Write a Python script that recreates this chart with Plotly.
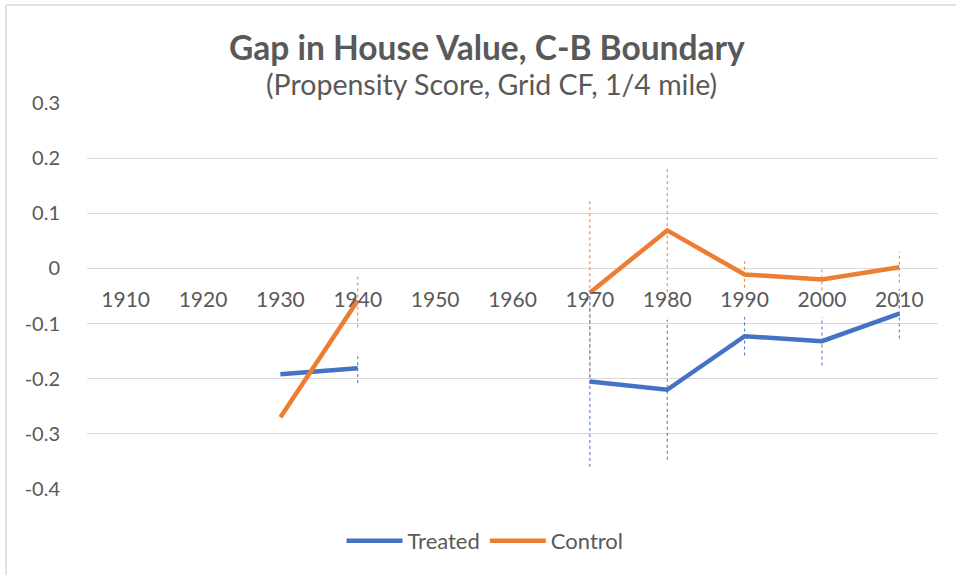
import plotly.graph_objects as go

years = [1910, 1920, 1930, 1940, 1950, 1960, 1970, 1980, 1990, 2000, 2010]
treated = [None, None, -0.192, -0.181, None, None, -0.205, -0.220, -0.123, -0.132, -0.082]
treated_err = [None, None, None, 0.027, None, None, 0.155, 0.127, 0.035, 0.044, 0.045]
control = [None, None, -0.270, -0.058, None, None, -0.044, 0.069, -0.011, -0.020, 0.002]
control_err = [None, None, None, 0.049, None, None, 0.166, 0.112, 0.024, 0.020, 0.028]
y_ticks = [0.3, 0.2, 0.1, 0, -0.1, -0.2, -0.3, -0.4]
title_text = "Gap in House Value, C-B Boundary"
subtitle_text = "(Propensity Score, Grid CF, 1/4 mile)"

BLUE = "#4472C4"
ORANGE = "#ED7D31"
GREY = "#595959"
FONT = "Lato"

TOP, BOTTOM, LEFT, RIGHT = 103, 86, 87, 18
PH = 575 - TOP - BOTTOM
PW = 956 - LEFT - RIGHT


def py(px):
    return 1 + (TOP - px) / PH


def px_x(px):
    return (px - LEFT) / PW


def err_segments(xs, ys, es):
    ex, ey = [], []
    for x, y, e in zip(xs, ys, es):
        if y is None or e is None:
            continue
        ex += [x, x, None]
        ey += [y - e, y + e, None]
    return ex, ey


fig = go.Figure()

for vals, errs, col in [(treated, treated_err, BLUE), (control, control_err, ORANGE)]:
    ex, ey = err_segments(years, vals, errs)
    fig.add_trace(go.Scatter(x=ex, y=ey, mode="lines", showlegend=False, hoverinfo="skip",
                             line=dict(color=col, width=1, dash="dot")))

fig.add_trace(go.Scatter(x=years, y=treated, mode="lines", name="Treated",
                         line=dict(color=BLUE, width=4.5), connectgaps=False))
fig.add_trace(go.Scatter(x=years, y=control, mode="lines", name="Control",
                         line=dict(color=ORANGE, width=4.5), connectgaps=False))

ymin, ymax = -0.4, 0.3
zero_pos = (0 - ymin) / (ymax - ymin)

fig.update_layout(
    width=956, height=575,
    margin=dict(l=LEFT, r=RIGHT, t=TOP, b=BOTTOM, autoexpand=False),
    paper_bgcolor="white", plot_bgcolor="white",
    font=dict(family=FONT, color=GREY),
    xaxis=dict(
        range=[1905, 2015], tickvals=years, ticktext=[str(y) for y in years],
        showgrid=False, zeroline=False, showline=False, automargin=False,
        anchor="free", position=zero_pos, ticks="", ticklabelstandoff=17,
        tickfont=dict(size=21, color=GREY, family=FONT),
    ),
    yaxis=dict(
        range=[ymin, ymax], tickvals=y_ticks, ticktext=[f"{v:g}" for v in y_ticks],
        showgrid=True, gridcolor="#D9D9D9", gridwidth=1.3, zeroline=False,
        showline=False, ticks="", ticklabelstandoff=26, automargin=False,
        tickfont=dict(size=20, color=GREY, family=FONT),
    ),
    legend=dict(orientation="h", x=px_x(485), xanchor="center", y=py(541), yanchor="middle",
                font=dict(size=22, color=GREY, family=FONT), itemwidth=56,
                tracegroupgap=0),
    annotations=[
        dict(text=f"<b>{title_text}</b>", xref="paper", yref="paper", x=px_x(487), y=py(47),
             xanchor="center", yanchor="middle", showarrow=False,
             font=dict(size=33.5, color=GREY, family=FONT)),
        dict(text=subtitle_text, xref="paper", yref="paper", x=px_x(491), y=py(84),
             xanchor="center", yanchor="middle", showarrow=False,
             font=dict(size=28.5, color=GREY, family=FONT)),
    ],
    shapes=[
        dict(type="line", xref="paper", yref="paper", x0=px_x(6), x1=px_x(960),
             y0=py(5), y1=py(5), line=dict(color="#D9D9D9", width=1.5)),
        dict(type="line", xref="paper", yref="paper", x0=px_x(6), x1=px_x(6),
             y0=py(580), y1=py(5), line=dict(color="#D9D9D9", width=1.5)),
    ],
)

fig.write_html("out.html", config={"displayModeBar": False},
               post_script="document.body.style.margin='0';document.body.style.overflow='hidden';")
